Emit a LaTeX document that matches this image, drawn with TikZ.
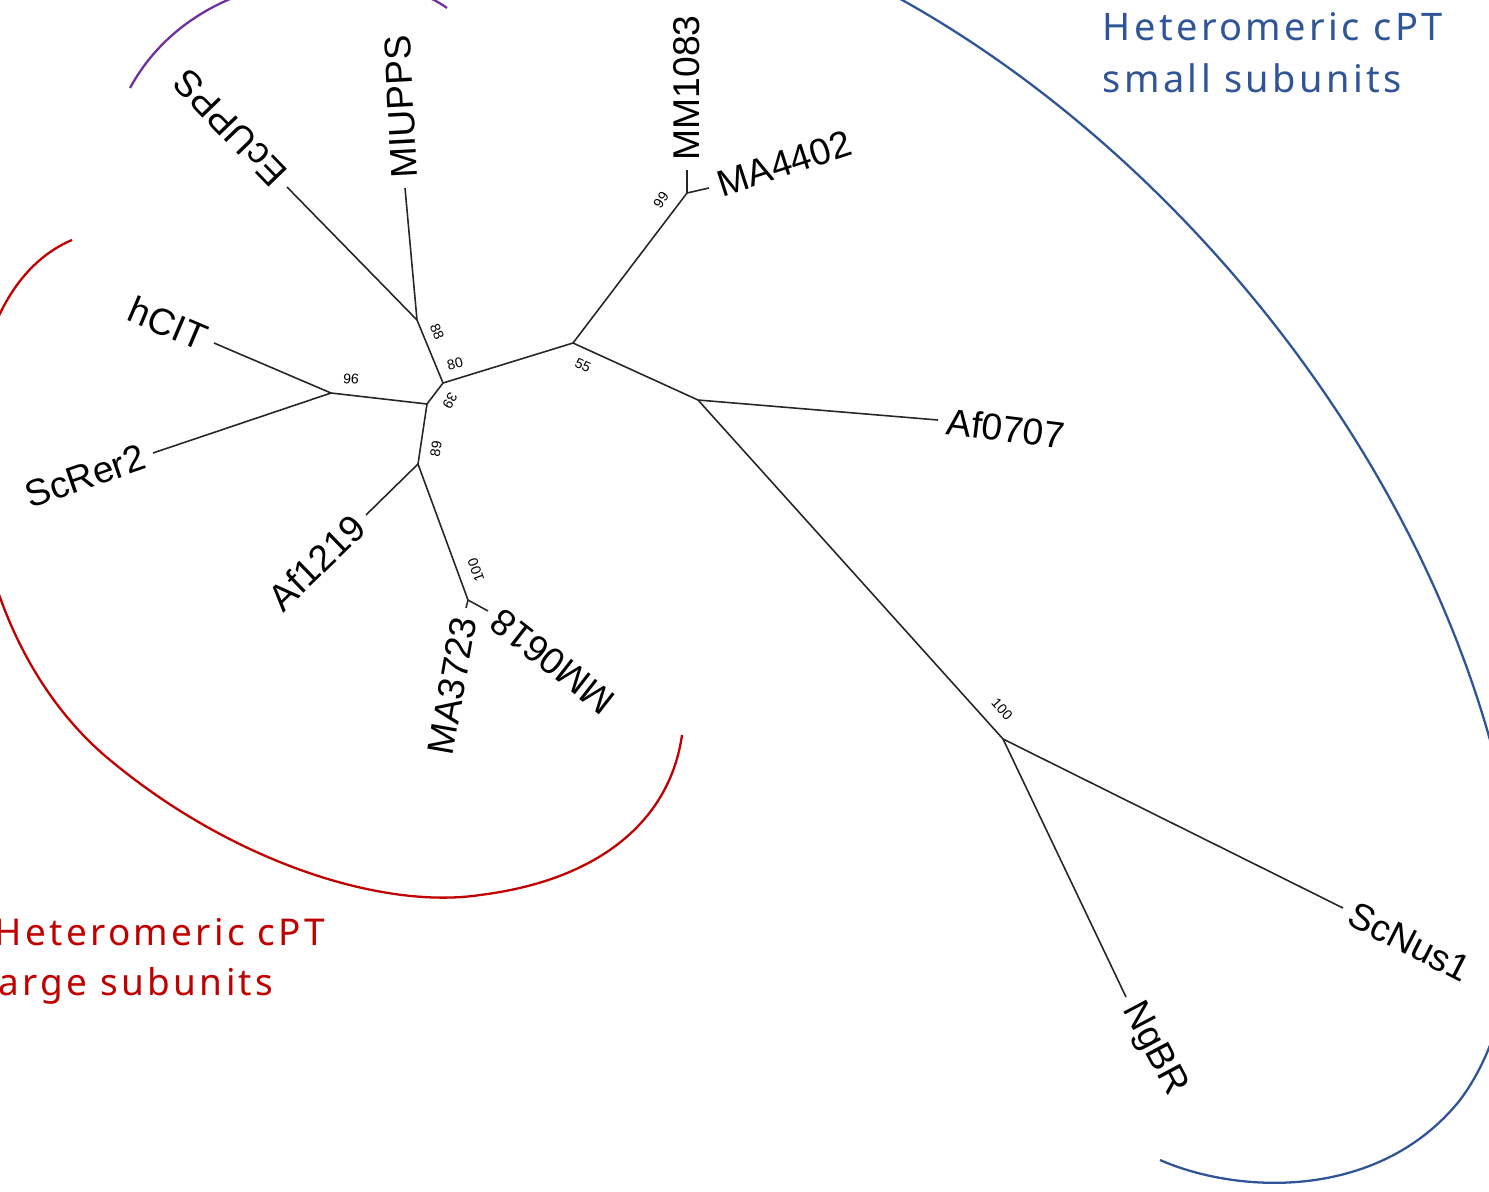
\documentclass[tikz,border=0pt]{standalone}
\usepackage{fontspec}
\setmainfont{Liberation Sans}
\newfontfamily\grpfont[LetterSpace=9]{Noto Sans}

\definecolor{grpred}{RGB}{192,0,0}
\definecolor{grpblue}{RGB}{47,85,151}
\definecolor{grppurple}{RGB}{112,48,160}

\tikzset{
  branch/.style={line width=0.45pt, black!85},
  leaf/.style={font=\fontsize{10.6}{12}\selectfont, inner sep=2.5pt},
  boot/.style={font=\fontsize{4}{5}\selectfont, inner sep=0pt},
  grp/.style={font=\grpfont\fontsize{10.8}{13}\selectfont, inner sep=0pt, anchor=base west},
  bracket/.style={line width=0.65pt}
}

\begin{document}
\begin{tikzpicture}[x=0.01cm, y=-0.01cm]

    % --- Frame (pixel grid of the figure) ---
    \clip (0,0) rectangle (1489,1191);

    % --- Inner junctions ---
    \coordinate (J39) at (427,404);
    \coordinate (J80) at (443,383);
    \coordinate (J88) at (417,320);
    \coordinate (J96) at (331,393);
    \coordinate (J89) at (418,464);
    \coordinate (J100a) at (468,600);
    \coordinate (J55) at (573,343);
    \coordinate (J99) at (687,193);
    \coordinate (JAf) at (698,400);
    \coordinate (J100b) at (1003,739);

    % Branch tips
    \coordinate (EcUPPS_end) at (287,187);
    \coordinate (MIUPPS_end) at (405,188);
    \coordinate (hCIT_end) at (214,343);
    \coordinate (ScRer2_end) at (153,453);
    \coordinate (Af1219_end) at (366,515);
    \coordinate (MA3723_end) at (466,608);
    \coordinate (MM0618_end) at (488,611);
    \coordinate (MM1083_end) at (687,170);
    \coordinate (MA4402_end) at (709,188);
    \coordinate (Af0707_end) at (938,420);
    \coordinate (ScNus1_end) at (1343,908);
    \coordinate (NgBR_end) at (1126,997);

    % --- Branches ---
    \draw[branch] (J96) -- (J39) -- (J89);
    \draw[branch] (J39) -- (J80) -- (J55);
    \draw[branch] (J80) -- (J88);
    \draw[branch] (J88) -- (EcUPPS_end);
    \draw[branch] (J88) -- (MIUPPS_end);
    \draw[branch] (J96) -- (hCIT_end);
    \draw[branch] (J96) -- (ScRer2_end);
    \draw[branch] (J89) -- (Af1219_end);
    \draw[branch] (J89) -- (J100a);
    \draw[branch] (J100a) -- (MA3723_end);
    \draw[branch] (J100a) -- (MM0618_end);
    \draw[branch] (J55) -- (J99);
    \draw[branch] (J55) -- (JAf);
    \draw[branch] (J99) -- (MM1083_end);
    \draw[branch] (J99) -- (MA4402_end);
    \draw[branch] (JAf) -- (Af0707_end);
    \draw[branch] (JAf) -- (J100b);
    \draw[branch] (J100b) -- (ScNus1_end);
    \draw[branch] (J100b) -- (NgBR_end);

    % --- Leaf labels ---
    \node[leaf, rotate=134, anchor=west] (EcUPPS) at (EcUPPS_end) {EcUPPS};
    \node[leaf, rotate=93, anchor=west] (MIUPPS) at (MIUPPS_end) {MIUPPS};
    \node[leaf, rotate=-23, anchor=east] (hCIT) at (hCIT_end) {hCIT};
    \node[leaf, rotate=19, anchor=east] (ScRer2) at (ScRer2_end) {ScRer2};
    \node[leaf, rotate=44, anchor=east] (Af1219) at (Af1219_end) {Af1219};
    \node[leaf, rotate=80, anchor=east] (MA3723) at (MA3723_end) {MA3723};
    \node[leaf, rotate=142, anchor=east] (MM0618) at (MM0618_end) {MM0618};
    \node[leaf, rotate=90, anchor=west] (MM1083) at (MM1083_end) {MM1083};
    \node[leaf, rotate=18, anchor=west] (MA4402) at (MA4402_end) {MA4402};
    \node[leaf, rotate=-7, anchor=west] (Af0707) at (Af0707_end) {Af0707};
    \node[leaf, rotate=-27, anchor=west] (ScNus1) at (ScNus1_end) {ScNus1};
    \node[leaf, rotate=-62, anchor=west] (NgBR) at (NgBR_end) {NgBR};

    % --- Bootstrap values ---
    \node[boot, rotate=-68] (b88) at (437,332) {88};
    \node[boot, rotate=15] (b80) at (455,364) {80};
    \node[boot, rotate=-120] (b39) at (450,401) {39};
    \node[boot, rotate=-5] (b96) at (351,379) {96};
    \node[boot, rotate=82] (b89) at (436,449) {89};
    \node[boot, rotate=110] (b100a) at (476,570) {100};
    \node[boot, rotate=-25] (b55) at (583,365) {55};
    \node[boot, rotate=56] (b99) at (661,200) {99};
    \node[boot, rotate=-48] (b100b) at (1002,709) {100};

    % --- Group brackets ---
    \draw[bracket, grppurple] (130,88) .. controls (200,-40) and (380,-40) .. (447,8);
    \draw[bracket, grpred] (72,240) .. controls (-70,300) and (-60,620) .. (110,760)
      .. controls (230,860) and (380,910) .. (480,895)
      .. controls (600,880) and (670,820) .. (682,735);
    \draw[bracket, grpblue] (880,-12) .. controls (1150,130) and (1400,420) .. (1490,740)
      .. controls (1530,880) and (1520,1020) .. (1460,1100)
      .. controls (1380,1200) and (1240,1195) .. (1160,1160);

    % --- Group names ---
    \node[grp, text=grpblue] (smallA) at (1102,41) {Heteromeric cPT};
    \node[grp, text=grpblue] (smallB) at (1102,93) {small subunits};
    \node[grp, text=grpred, font=\grpfont\fontsize{10.5}{13}\selectfont] (largeA) at (-6,945) {Heteromeric cPT};
    \node[grp, text=grpred, font=\grpfont\fontsize{10.5}{13}\selectfont] (largeB) at (-15,995) {large subunits};

\end{tikzpicture}
\end{document}
